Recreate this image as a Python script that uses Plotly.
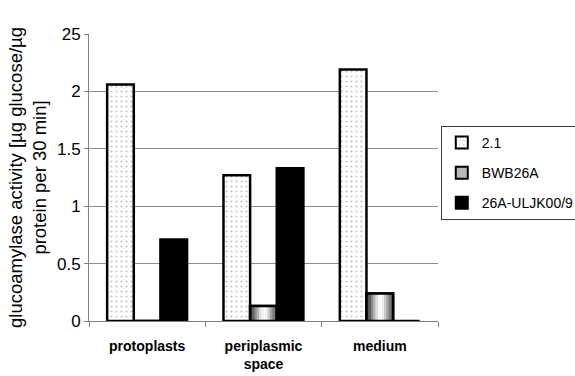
import plotly.graph_objects as go

# Glucoamylase activity by cell fraction for three strains
categories = ["protoplasts", "periplasmic<br>space", "medium"]
strain_21 = [2.06, 1.27, 2.19]
strain_bwb26a = [0.0, 0.13, 0.24]
strain_ulj = [0.71, 1.33, 0.0]
series_names = ["2.1", "BWB26A", "26A-ULJK00/9"]
y_tick_vals = [0, 0.5, 1, 1.5, 2, 2.5]
y_tick_text = ["0", "0.5", "1", "1.5", "2", "25"]

BAR_W = 0.229
OFFSETS = [-0.344, -0.115, 0.114]
FONT = "Liberation Sans, Arial, sans-serif"
OUTLINE = 2.5

fig = go.Figure()

# 2.1: dotted fill
fig.add_trace(go.Bar(
    x=categories, y=strain_21, name=series_names[0], legendgroup="a",
    offset=OFFSETS[0], width=BAR_W,
    marker=dict(color="white", line=dict(color="black", width=OUTLINE),
                pattern=dict(shape=".", fgcolor="#8a8a8a", bgcolor="white",
                             size=5, solidity=0.15)),
))

# BWB26A: cylinder-like grey shading built from narrow strips
fig.add_trace(go.Bar(
    x=categories, y=strain_bwb26a, name=series_names[1], legendgroup="b",
    offset=OFFSETS[1], width=BAR_W,
    marker=dict(color="#b8b8b8", line=dict(color="black", width=OUTLINE)),
))
shades = ["#3a3a3a", "#5c5c5c", "#8a8a8a", "#b4b4b4", "#dcdcdc", "#f6f6f6",
          "#ffffff", "#ececec", "#c8c8c8", "#a0a0a0", "#7c7c7c", "#626262"]
strip_w = BAR_W / len(shades)
for i, c in enumerate(shades):
    fig.add_trace(go.Bar(
        x=categories, y=strain_bwb26a, showlegend=False, hoverinfo="skip",
        legendgroup="b",
        offset=OFFSETS[1] + i * strip_w, width=strip_w * 1.05,
        marker=dict(color=c, line=dict(width=0)),
    ))
fig.add_trace(go.Bar(
    x=categories, y=strain_bwb26a, showlegend=False, hoverinfo="skip",
    legendgroup="b",
    offset=OFFSETS[1], width=BAR_W,
    marker=dict(color="rgba(0,0,0,0)", line=dict(color="black", width=OUTLINE)),
))

# 26A-ULJK00/9: solid black
fig.add_trace(go.Bar(
    x=categories, y=strain_ulj, name=series_names[2], legendgroup="c",
    offset=OFFSETS[2], width=BAR_W,
    marker=dict(color="black", line=dict(color="black", width=OUTLINE)),
))

fig.update_layout(
    barmode="overlay",
    width=575, height=376,
    margin=dict(l=89, r=137, t=34, b=55, autoexpand=False),
    paper_bgcolor="white", plot_bgcolor="white",
    font=dict(family=FONT, color="black"),
    showlegend=True,
    legend=dict(
        x=1.008, y=0.68, xanchor="left", yanchor="top",
        bordercolor="#404040", borderwidth=1, bgcolor="white",
        font=dict(size=14, family=FONT), tracegroupgap=9,
        itemsizing="constant", itemwidth=30,
    ),
    xaxis=dict(
        type="category", tickson="boundaries", ticks="outside", ticklen=5,
        tickcolor="#7f7f7f", showline=True, linecolor="#7f7f7f", linewidth=1,
        showgrid=False, range=[-0.5, 2.5], ticklabelstandoff=12,
        tickfont=dict(size=14, family=FONT, weight="bold"),
    ),
    yaxis=dict(
        range=[0, 2.5], tickvals=y_tick_vals, ticktext=y_tick_text,
        showgrid=True, gridcolor="#8c8c8c", gridwidth=1,
        showline=True, linecolor="#7f7f7f", linewidth=1,
        ticks="outside", ticklen=4, tickcolor="#7f7f7f",
        tickfont=dict(size=17, family=FONT), zeroline=False,
        title=dict(text="glucoamylase activity [µg glucose/µg<br>protein per 30 min]",
                   font=dict(size=18.5, family=FONT), standoff=5),
    ),
)

fig.write_html("out.html")
